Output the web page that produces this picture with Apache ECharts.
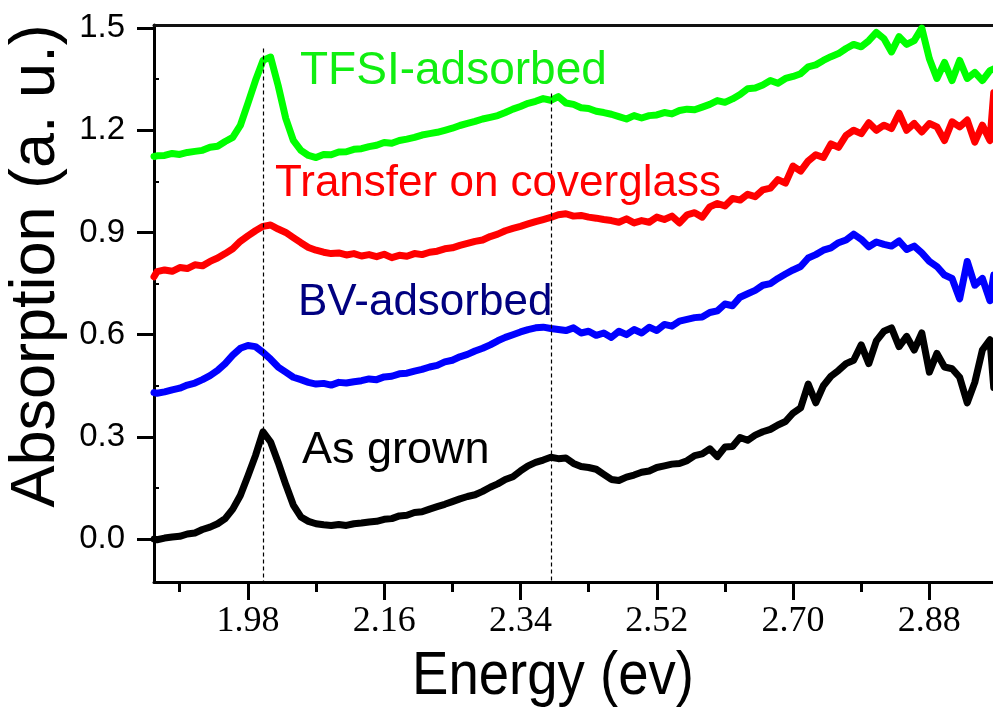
<!DOCTYPE html>
<html>
<head>
<meta charset="utf-8">
<script src="https://cdn.jsdelivr.net/npm/echarts@6/dist/echarts.min.js"></script>
<style>
  html, body { margin: 0; padding: 0; background: #ffffff; }
  #chart { width: 993px; height: 708px; }
</style>
</head>
<body>
<div id="chart"></div>
<script>
// Photon energy (eV) of each sample point
const energy = [1.856,
  1.86, 1.87, 1.88, 1.89, 1.90, 1.91, 1.92, 1.93, 1.94, 1.95,
  1.96, 1.97, 1.98, 1.99, 2.00, 2.01, 2.02, 2.03, 2.04, 2.05,
  2.06, 2.07, 2.08, 2.09, 2.10, 2.11, 2.12, 2.13, 2.14, 2.15,
  2.16, 2.17, 2.18, 2.19, 2.20, 2.21, 2.22, 2.23, 2.24, 2.25,
  2.26, 2.27, 2.28, 2.29, 2.30, 2.31, 2.32, 2.33, 2.34, 2.35,
  2.36, 2.37, 2.38, 2.39, 2.40, 2.41, 2.42, 2.43, 2.44, 2.45,
  2.46, 2.47, 2.48, 2.49, 2.50, 2.51, 2.52, 2.53, 2.54, 2.55,
  2.56, 2.57, 2.58, 2.59, 2.60, 2.61, 2.62, 2.63, 2.64, 2.65,
  2.66, 2.67, 2.68, 2.69, 2.70, 2.71, 2.72, 2.73, 2.74, 2.75,
  2.76, 2.77, 2.78, 2.79, 2.80, 2.81, 2.82, 2.83, 2.84, 2.85,
  2.86, 2.87, 2.88, 2.89, 2.90, 2.91, 2.92, 2.93, 2.94, 2.95,
  2.96, 2.965];

// Absorption spectra (offset, a.u.)
const tfsiAdsorbed = [1.123,
  1.125, 1.126, 1.132, 1.129, 1.135, 1.138, 1.141, 1.150, 1.153, 1.167,
  1.179, 1.214, 1.279, 1.346, 1.405, 1.415, 1.331, 1.235, 1.170, 1.141,
  1.126, 1.120, 1.129, 1.128, 1.136, 1.137, 1.144, 1.146, 1.152, 1.156,
  1.164, 1.162, 1.170, 1.174, 1.179, 1.186, 1.190, 1.194, 1.200, 1.206,
  1.214, 1.220, 1.226, 1.233, 1.238, 1.243, 1.252, 1.262, 1.270, 1.279,
  1.285, 1.293, 1.288, 1.299, 1.280, 1.276, 1.266, 1.264, 1.256, 1.252,
  1.247, 1.240, 1.233, 1.243, 1.236, 1.243, 1.245, 1.252, 1.248, 1.258,
  1.262, 1.260, 1.268, 1.276, 1.287, 1.282, 1.292, 1.305, 1.322, 1.324,
  1.333, 1.346, 1.338, 1.352, 1.358, 1.366, 1.386, 1.392, 1.405, 1.416,
  1.425, 1.440, 1.452, 1.445, 1.463, 1.487, 1.469, 1.430, 1.475, 1.452,
  1.463, 1.500, 1.410, 1.352, 1.399, 1.346, 1.405, 1.352, 1.370, 1.346,
  1.375, 1.380];

const transferOnCoverglass = [0.770,
  0.785, 0.790, 0.786, 0.797, 0.794, 0.805, 0.802, 0.815, 0.825, 0.838,
  0.852, 0.874, 0.890, 0.905, 0.918, 0.922, 0.910, 0.900, 0.885, 0.870,
  0.856, 0.848, 0.842, 0.838, 0.840, 0.834, 0.838, 0.831, 0.835, 0.829,
  0.836, 0.826, 0.833, 0.830, 0.838, 0.835, 0.842, 0.845, 0.852, 0.855,
  0.862, 0.868, 0.874, 0.878, 0.888, 0.895, 0.905, 0.912, 0.918, 0.925,
  0.932, 0.938, 0.944, 0.952, 0.955, 0.948, 0.950, 0.945, 0.942, 0.938,
  0.935, 0.930, 0.940, 0.928, 0.935, 0.930, 0.945, 0.938, 0.948, 0.928,
  0.952, 0.958, 0.945, 0.975, 0.985, 0.978, 1.000, 0.995, 1.012, 1.005,
  1.025, 1.030, 1.055, 1.045, 1.095, 1.080, 1.110, 1.128, 1.120, 1.160,
  1.150, 1.185, 1.200, 1.190, 1.222, 1.200, 1.215, 1.205, 1.250, 1.200,
  1.220, 1.195, 1.220, 1.210, 1.170, 1.225, 1.210, 1.230, 1.165, 1.215,
  1.170, 1.310];

const bvAdsorbed = [0.430,
  0.428, 0.432, 0.438, 0.443, 0.452, 0.458, 0.468, 0.480, 0.495, 0.515,
  0.540, 0.560, 0.568, 0.565, 0.548, 0.528, 0.505, 0.490, 0.475, 0.468,
  0.460, 0.455, 0.457, 0.452, 0.460, 0.458, 0.462, 0.465, 0.470, 0.468,
  0.476, 0.478, 0.485, 0.487, 0.493, 0.498, 0.505, 0.510, 0.520, 0.525,
  0.535, 0.542, 0.552, 0.560, 0.570, 0.582, 0.592, 0.600, 0.608, 0.615,
  0.620, 0.622, 0.618, 0.615, 0.612, 0.620, 0.605, 0.610, 0.598, 0.605,
  0.592, 0.610, 0.600, 0.615, 0.605, 0.622, 0.612, 0.630, 0.625, 0.640,
  0.645, 0.650, 0.652, 0.665, 0.670, 0.690, 0.685, 0.710, 0.720, 0.730,
  0.745, 0.750, 0.765, 0.778, 0.790, 0.800, 0.825, 0.835, 0.848, 0.855,
  0.870, 0.878, 0.895, 0.880, 0.858, 0.872, 0.865, 0.860, 0.875, 0.850,
  0.860, 0.840, 0.815, 0.800, 0.775, 0.765, 0.705, 0.815, 0.745, 0.765,
  0.700, 0.775];

const asGrown = [0.000,
  -0.002, 0.003, 0.006, 0.008, 0.015, 0.018, 0.028, 0.035, 0.045, 0.060,
  0.088, 0.128, 0.185, 0.245, 0.315, 0.285, 0.225, 0.160, 0.100, 0.065,
  0.052, 0.045, 0.042, 0.040, 0.043, 0.040, 0.045, 0.047, 0.050, 0.052,
  0.058, 0.060, 0.068, 0.070, 0.078, 0.080, 0.088, 0.095, 0.102, 0.110,
  0.118, 0.125, 0.130, 0.140, 0.152, 0.162, 0.175, 0.183, 0.200, 0.215,
  0.225, 0.232, 0.240, 0.236, 0.238, 0.222, 0.213, 0.210, 0.205, 0.190,
  0.175, 0.172, 0.182, 0.188, 0.196, 0.200, 0.210, 0.215, 0.220, 0.222,
  0.230, 0.245, 0.250, 0.265, 0.242, 0.270, 0.272, 0.298, 0.290, 0.305,
  0.315, 0.322, 0.335, 0.345, 0.370, 0.385, 0.455, 0.400, 0.450, 0.478,
  0.495, 0.515, 0.525, 0.570, 0.515, 0.582, 0.610, 0.620, 0.565, 0.595,
  0.555, 0.605, 0.490, 0.545, 0.505, 0.500, 0.475, 0.400, 0.460, 0.555,
  0.585, 0.445];

// Axis ticks
const xTickValues = [1.98, 2.16, 2.34, 2.52, 2.70, 2.88];
const xMinorValues = [1.89, 2.07, 2.25, 2.43, 2.61, 2.79];
const yTickValues = [0.0, 0.3, 0.6, 0.9, 1.2, 1.5];
const yMinorValues = [0.15, 0.45, 0.75, 1.05, 1.35];

// Reference lines at the two exciton features: energy and upper end
const peakEnergies = [2.00, 2.38];
const peakLineTops = [1.44, 1.308];

const X_MIN = 1.856, X_MAX = 2.968;
const Y_MIN = -0.126, Y_MAX = 1.509;

const pairs = ys => energy.map((e, i) => [e, ys[i]]);

const gridRect = { left: 154, top: 25, width: 842, height: 557, outerBoundsMode: 'none' };

const sans = "'Liberation Sans', Arial, sans-serif";
const serif = "'Liberation Serif', 'Times New Roman', serif";

const lineSeries = (name, ys, color) => ({
  name, type: 'line', xAxisIndex: 0, yAxisIndex: 0,
  data: pairs(ys), showSymbol: false, symbol: 'none', silent: true,
  lineStyle: { color, width: 7, join: 'round', cap: 'round' },
  animation: false
});

const chart = echarts.init(document.getElementById('chart'), null, { renderer: 'canvas' });

const option = {
  backgroundColor: '#ffffff',
  animation: false,
  grid: [Object.assign({}, gridRect), Object.assign({}, gridRect)],
  xAxis: [
    {
      type: 'value', gridIndex: 0, position: 'bottom', min: X_MIN, max: X_MAX,
      axisLine: { show: true, onZero: false, lineStyle: { color: '#000', width: 3 } },
      axisTick: { show: true, customValues: xTickValues, length: 18, lineStyle: { color: '#000', width: 3 } },
      axisLabel: {
        show: true, customValues: xTickValues, margin: 22,
        formatter: v => v.toFixed(2),
        color: '#000', fontSize: 36, fontFamily: serif
      },
      splitLine: { show: false }
    },
    {
      type: 'value', gridIndex: 0, position: 'top', min: X_MIN, max: X_MAX,
      axisLine: { show: true, onZero: false, lineStyle: { color: '#111', width: 3 } },
      axisTick: { show: false }, axisLabel: { show: false }, splitLine: { show: false }
    },
    {
      type: 'value', gridIndex: 1, position: 'bottom', min: X_MIN, max: X_MAX,
      axisLine: { show: false, onZero: false },
      axisTick: { show: true, customValues: xMinorValues, length: 10, lineStyle: { color: '#000', width: 3 } },
      axisLabel: { show: false }, splitLine: { show: false }
    }
  ],
  yAxis: [
    {
      type: 'value', gridIndex: 0, position: 'left', min: Y_MIN, max: Y_MAX,
      axisLine: { show: true, onZero: false, lineStyle: { color: '#000', width: 3 } },
      axisTick: { show: true, customValues: yTickValues, length: 17, lineStyle: { color: '#000', width: 3 } },
      axisLabel: {
        show: true, customValues: yTickValues, margin: 29,
        formatter: v => v.toFixed(1),
        color: '#000', fontSize: 33, fontFamily: sans
      },
      splitLine: { show: false }
    },
    {
      type: 'value', gridIndex: 1, position: 'left', min: Y_MIN, max: Y_MAX,
      axisLine: { show: false, onZero: false },
      axisTick: { show: true, inside: true, customValues: yMinorValues, length: 5, lineStyle: { color: '#000', width: 2 } },
      axisLabel: { show: false }, splitLine: { show: false }
    }
  ],
  series: [
    lineSeries('TFSI-adsorbed', tfsiAdsorbed, '#00ff00'),
    lineSeries('Transfer on coverglass', transferOnCoverglass, '#ff0000'),
    lineSeries('BV-adsorbed', bvAdsorbed, '#0000ff'),
    Object.assign(lineSeries('As grown', asGrown, '#000000'), {
      markLine: {
        silent: true, symbol: 'none', animation: false,
        label: { show: false },
        lineStyle: { color: '#000', width: 1.2, type: [4, 3] },
        data: peakEnergies.map((e, i) => [
          { coord: [e, peakLineTops[i]] },
          { coord: [e, Y_MIN] }
        ])
      }
    })
  ],
  graphic: [
    { type: 'text', x: 300, y: 71, z: 10,
      style: { text: 'TFSI-adsorbed', fill: '#11ee11', font: '46px ' + sans, align: 'left', verticalAlign: 'middle' } },
    { type: 'text', x: 275, y: 184, z: 10,
      style: { text: 'Transfer on coverglass', fill: '#ff0000', font: '44px ' + sans, align: 'left', verticalAlign: 'middle' } },
    { type: 'text', x: 298, y: 303, z: 10,
      style: { text: 'BV-adsorbed', fill: '#000080', font: '44px ' + sans, align: 'left', verticalAlign: 'middle' } },
    { type: 'text', x: 302, y: 451, z: 10,
      style: { text: 'As grown', fill: '#000000', font: '45px ' + sans, align: 'left', verticalAlign: 'middle' } },
    { type: 'text', x: 37, y: 266, rotation: Math.PI / 2, z: 10,
      style: { text: 'Absorption (a. u.)', fill: '#000000', font: '63px ' + sans, align: 'center', verticalAlign: 'middle' } },
    { type: 'text', x: 553, y: 677, scaleX: 0.88, z: 10,
      style: { text: 'Energy (ev)', fill: '#000000', font: '62px ' + sans, align: 'center', verticalAlign: 'middle' } }
  ]
};

chart.setOption(option);
</script>
</body>
</html>
